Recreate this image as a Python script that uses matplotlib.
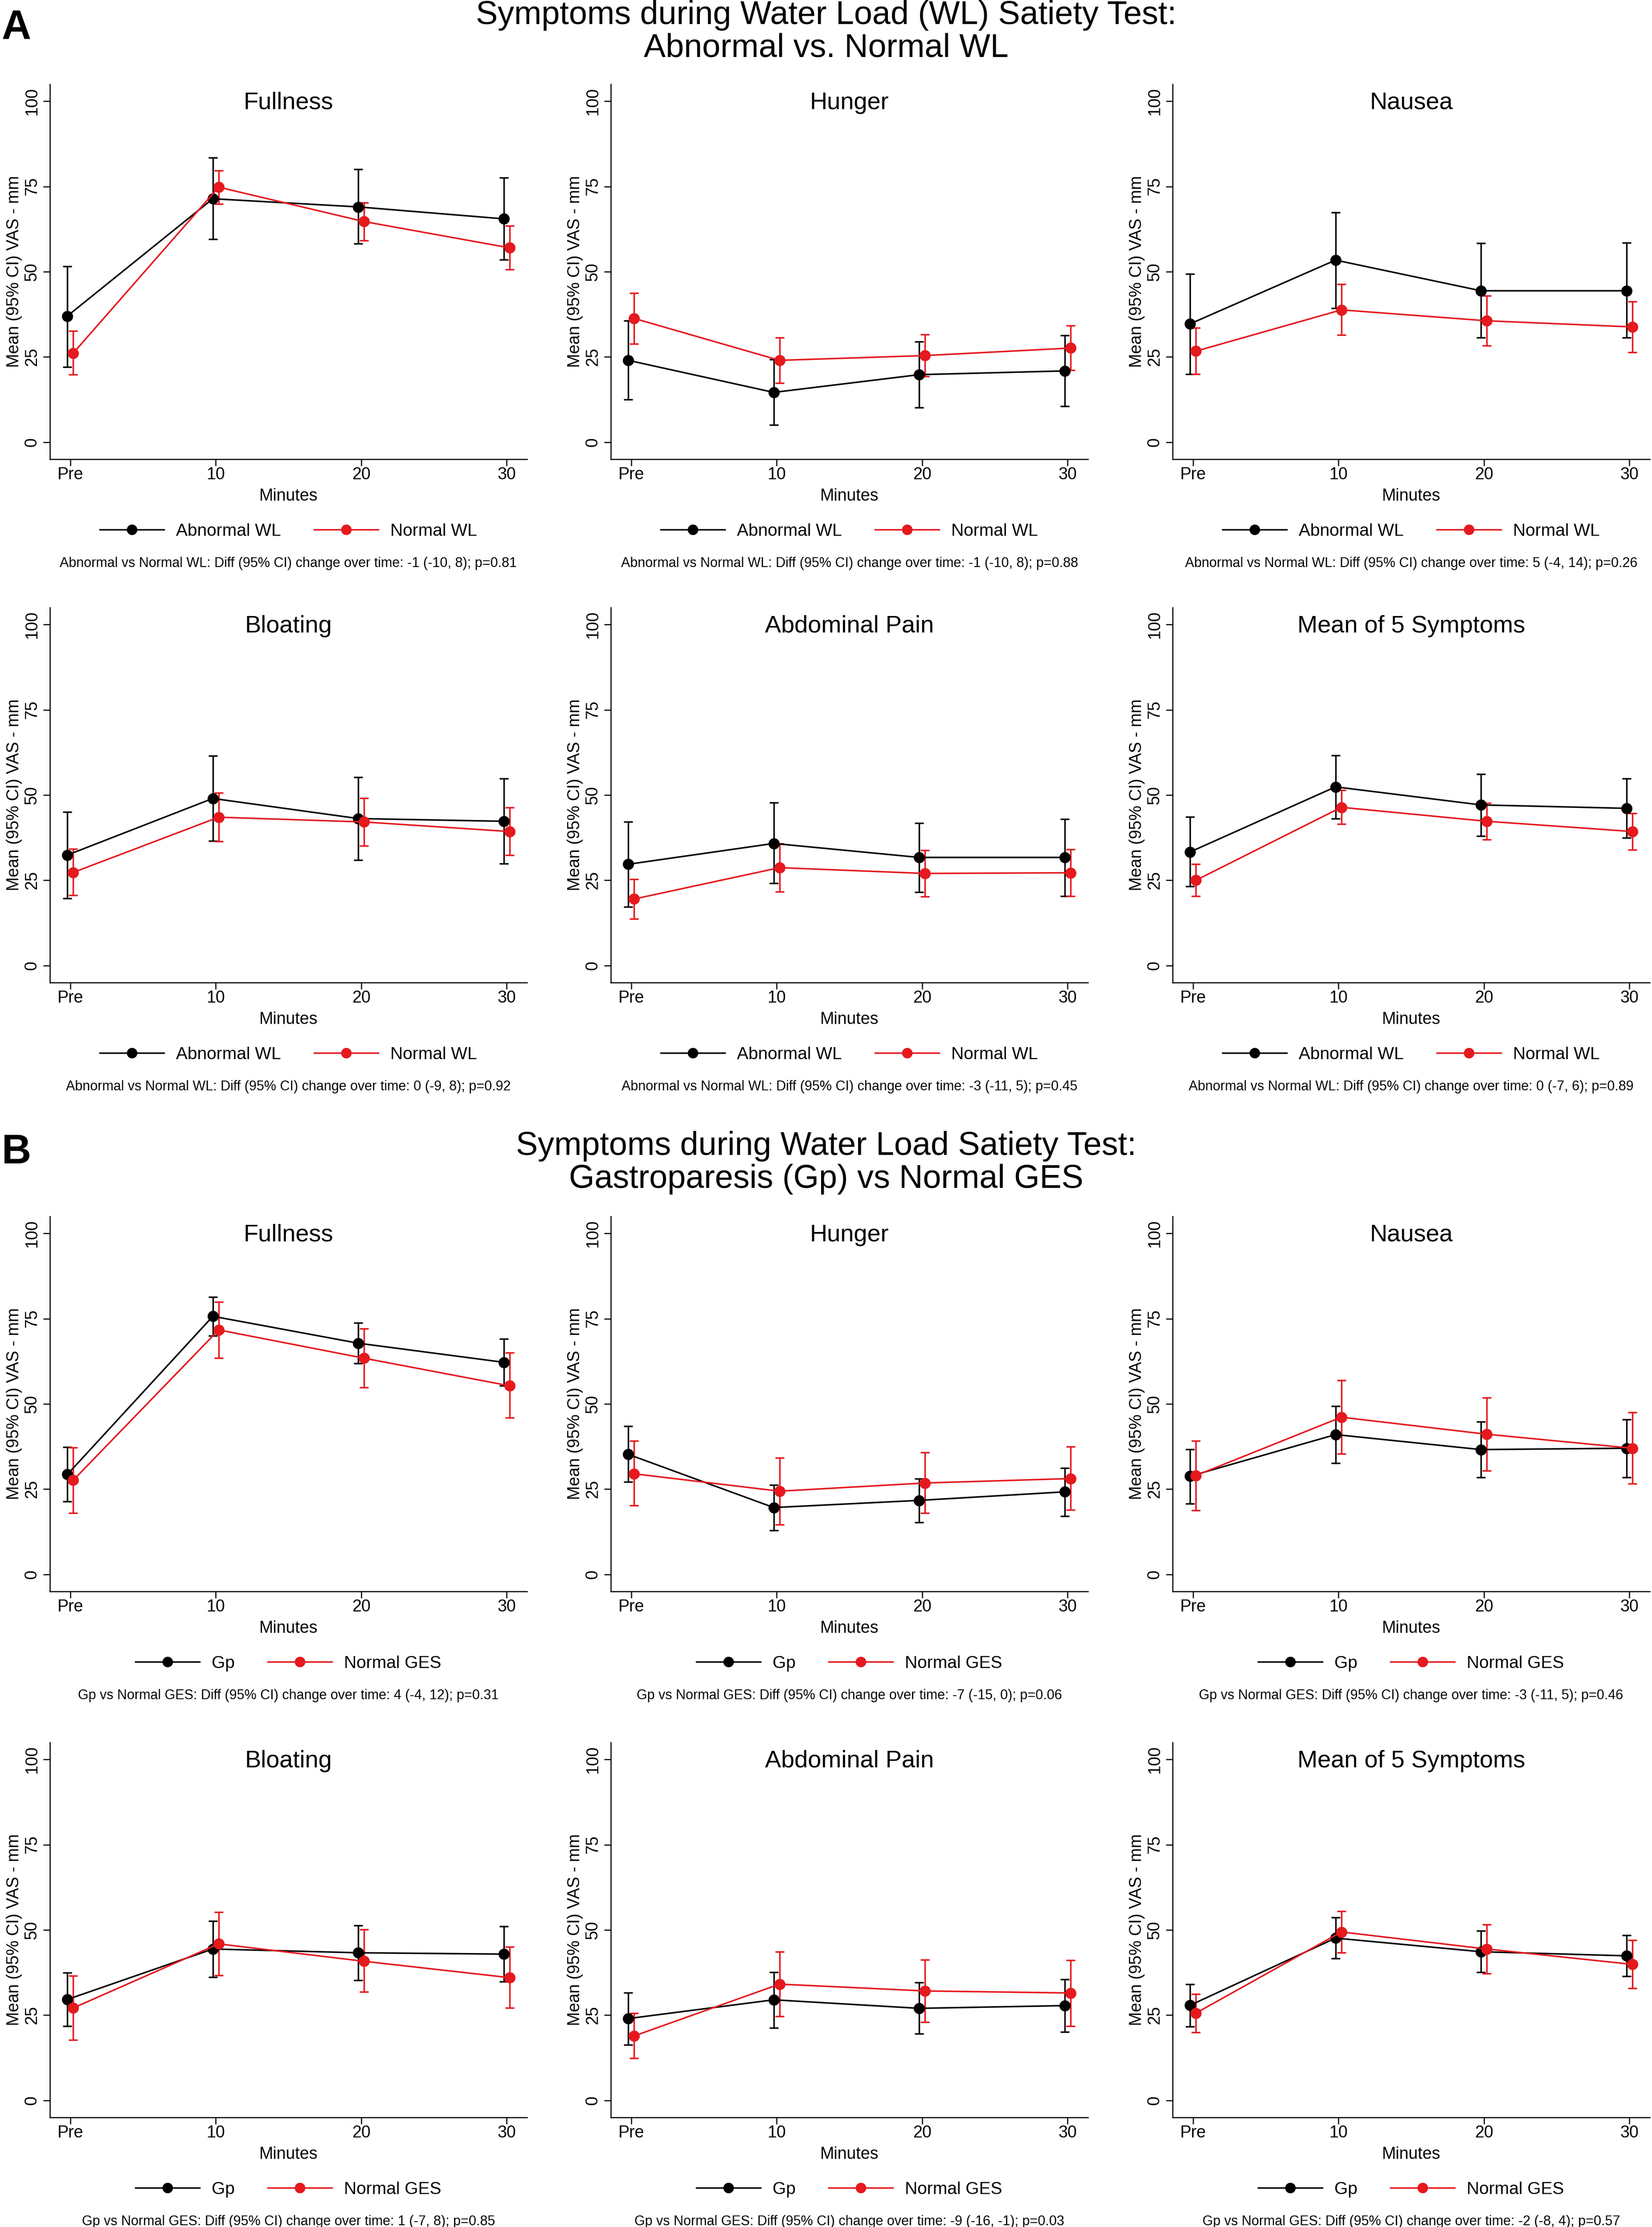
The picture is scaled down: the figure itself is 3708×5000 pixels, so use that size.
import matplotlib
matplotlib.use("Agg")
import matplotlib.pyplot as plt
from matplotlib.lines import Line2D

plt.rcParams['font.family'] = ['Liberation Sans', 'DejaVu Sans']

# ---------------- data ----------------
time_positions = [0, 10, 20, 30]
time_labels = ["Pre", "10", "20", "30"]
symptoms = ["Fullness", "Hunger", "Nausea", "Bloating", "Abdominal Pain", "Mean of 5 Symptoms"]

# Panel A: Abnormal WL (black) vs Normal WL (red)
A_abn_mean = [
    [37.0, 71.4, 69.0, 65.5],
    [24.0, 14.6, 19.8, 20.9],
    [34.7, 53.4, 44.4, 44.4],
    [32.4, 49.0, 43.1, 42.3],
    [29.7, 35.8, 31.7, 31.7],
    [33.3, 52.4, 47.1, 46.1],
]
A_abn_lo = [
    [22.1, 59.6, 58.2, 53.5],
    [12.5, 5.0, 10.2, 10.6],
    [20.0, 39.3, 30.7, 30.7],
    [19.7, 36.6, 30.9, 29.9],
    [17.2, 24.1, 21.5, 20.4],
    [23.2, 43.1, 38.0, 37.4],
]
A_abn_hi = [
    [51.6, 83.4, 80.1, 77.5],
    [35.6, 24.2, 29.5, 31.3],
    [49.4, 67.4, 58.4, 58.5],
    [45.1, 61.5, 55.2, 54.8],
    [42.1, 47.8, 41.8, 43.0],
    [43.6, 61.6, 56.1, 54.8],
]
A_nor_mean = [
    [26.1, 74.8, 64.7, 57.0],
    [36.3, 24.0, 25.4, 27.6],
    [26.7, 38.8, 35.6, 33.8],
    [27.3, 43.5, 42.1, 39.3],
    [19.5, 28.7, 27.0, 27.2],
    [25.0, 46.4, 42.3, 39.3],
]
A_nor_lo = [
    [19.8, 69.9, 59.1, 50.7],
    [28.9, 17.4, 19.3, 21.1],
    [20.0, 31.4, 28.3, 26.3],
    [20.6, 36.4, 35.1, 32.3],
    [13.7, 21.6, 20.2, 20.4],
    [20.3, 41.5, 37.0, 33.9],
]
A_nor_hi = [
    [32.6, 79.7, 70.2, 63.4],
    [43.7, 30.7, 31.6, 34.2],
    [33.6, 46.4, 43.0, 41.3],
    [34.2, 50.6, 49.1, 46.3],
    [25.3, 35.8, 33.8, 34.1],
    [29.7, 51.4, 47.6, 44.7],
]
A_notes = [
    "Abnormal vs Normal WL: Diff (95% CI) change over time: -1 (-10, 8); p=0.81",
    "Abnormal vs Normal WL: Diff (95% CI) change over time: -1 (-10, 8); p=0.88",
    "Abnormal vs Normal WL: Diff (95% CI) change over time: 5 (-4, 14); p=0.26",
    "Abnormal vs Normal WL: Diff (95% CI) change over time: 0 (-9, 8); p=0.92",
    "Abnormal vs Normal WL: Diff (95% CI) change over time: -3 (-11, 5); p=0.45",
    "Abnormal vs Normal WL: Diff (95% CI) change over time: 0 (-7, 6); p=0.89",
]
A_groups = ["Abnormal WL", "Normal WL"]
A_title = ["Symptoms during Water Load (WL) Satiety Test:", "Abnormal vs. Normal WL"]

# Panel B: Gp (black) vs Normal GES (red)
B_gp_mean = [
    [29.3, 75.7, 67.8, 62.2],
    [35.2, 19.6, 21.7, 24.2],
    [28.8, 41.0, 36.6, 37.0],
    [29.6, 44.4, 43.3, 42.9],
    [24.0, 29.5, 27.0, 27.8],
    [27.9, 47.6, 43.6, 42.4],
]
B_gp_lo = [
    [21.4, 70.0, 61.9, 55.3],
    [27.2, 12.9, 15.3, 17.1],
    [20.8, 32.6, 28.5, 28.5],
    [21.8, 36.1, 35.2, 34.8],
    [16.3, 21.3, 19.6, 20.1],
    [21.6, 41.7, 37.6, 36.4],
]
B_gp_hi = [
    [37.3, 81.4, 73.8, 69.1],
    [43.5, 26.2, 28.1, 31.2],
    [36.7, 49.4, 44.8, 45.4],
    [37.5, 52.6, 51.3, 51.1],
    [31.6, 37.6, 34.6, 35.5],
    [34.1, 53.7, 49.7, 48.4],
]
B_nor_mean = [
    [27.6, 71.7, 63.4, 55.3],
    [29.5, 24.4, 26.8, 28.1],
    [29.0, 46.1, 41.1, 37.0],
    [27.1, 45.9, 40.8, 36.0],
    [18.9, 34.1, 32.1, 31.5],
    [25.6, 49.4, 44.4, 39.9],
]
B_nor_lo = [
    [18.0, 63.4, 54.8, 45.9],
    [20.2, 14.6, 18.0, 18.9],
    [18.8, 35.4, 30.4, 26.6],
    [17.7, 36.7, 31.8, 27.2],
    [12.4, 24.6, 23.0, 21.8],
    [20.0, 43.3, 37.2, 32.9],
]
B_nor_hi = [
    [37.2, 79.9, 72.1, 65.0],
    [39.1, 34.2, 35.8, 37.4],
    [39.1, 56.9, 51.8, 47.5],
    [36.6, 55.2, 50.1, 45.0],
    [25.6, 43.6, 41.2, 41.1],
    [31.2, 55.5, 51.6, 47.0],
]
B_notes = [
    "Gp vs Normal GES: Diff (95% CI) change over time: 4 (-4, 12); p=0.31",
    "Gp vs Normal GES: Diff (95% CI) change over time: -7 (-15, 0); p=0.06",
    "Gp vs Normal GES: Diff (95% CI) change over time: -3 (-11, 5); p=0.46",
    "Gp vs Normal GES: Diff (95% CI) change over time: 1 (-7, 8); p=0.85",
    "Gp vs Normal GES: Diff (95% CI) change over time: -9 (-16, -1); p=0.03",
    "Gp vs Normal GES: Diff (95% CI) change over time: -2 (-8, 4); p=0.57",
]
B_groups = ["Gp", "Normal GES"]
B_title = ["Symptoms during Water Load Satiety Test:", "Gastroparesis (Gp) vs Normal GES"]

# ---------------- layout / style ----------------
W, H = 3708, 5000
DPI = 100
fig = plt.figure(figsize=(W / DPI, H / DPI), dpi=DPI)
fig.patch.set_facecolor("white")

RED = "#E5191E"
BLACK = "black"
col_left = [112, 1371, 2632]
ax_w = 1071
ax_h = 842
row_top = [189, 1364, 2731, 3912]
dodge = 0.2

LW = 2.5
MS = 17
FS_TICK = 27
FS_TITLE = 39
FS_LEG = 28
FS_NOTE = 22


def add_axes_px(left, top, w, h):
    return fig.add_axes([left / W, 1 - (top + h) / H, w / W, h / H])


def draw_panel(ax, title, m1, lo1, hi1, m2, lo2, hi2, groups, note):
    x1 = [t - dodge for t in time_positions]
    x2 = [t + dodge for t in time_positions]
    for xs, m, lo, hi, c in ((x1, m1, lo1, hi1, BLACK), (x2, m2, lo2, hi2, RED)):
        yerr = [[mm - ll for mm, ll in zip(m, lo)], [hh - mm for mm, hh in zip(m, hi)]]
        ax.errorbar(xs, m, yerr=yerr, color=c, lw=LW, marker='o', ms=MS,
                    mfc=c, mec=c, capsize=7, capthick=LW, elinewidth=LW)
    ax.set_xlim(-1.4, 31.4)
    ax.set_ylim(-5, 105)
    ax.set_xticks(time_positions)
    ax.set_xticklabels(time_labels)
    ax.set_yticks([0, 25, 50, 75, 100])
    ax.set_yticklabels(["0", "25", "50", "75", "100"], rotation=90, va='center')
    for s in ("top", "right"):
        ax.spines[s].set_visible(False)
    for s in ("left", "bottom"):
        ax.spines[s].set_linewidth(1.8)
    ax.tick_params(axis='both', direction='out', length=11, width=1.8,
                   labelsize=FS_TICK)
    ax.tick_params(axis='x', pad=1)
    ax.tick_params(axis='y', pad=5)
    ax.set_ylabel("Mean (95% CI) VAS - mm", fontsize=FS_TICK)
    ax.yaxis.set_label_coords(-0.058, 0.5)
    ax.text(0.5, 0.9335, title, transform=ax.transAxes, ha='center',
            va='baseline', fontsize=FS_TITLE)
    ax.text(0.5, -0.1105, "Minutes", transform=ax.transAxes, ha='center',
            va='baseline', fontsize=FS_TICK)
    handles = [Line2D([0], [0], color=BLACK, lw=LW, marker='o', ms=MS - 1),
               Line2D([0], [0], color=RED, lw=LW, marker='o', ms=MS - 1)]
    ax.legend(handles, groups, loc='center', bbox_to_anchor=(0.5, -0.192),
              ncol=2, frameon=False, fontsize=FS_LEG, handlelength=3.7,
              handletextpad=0.7, columnspacing=1.9, numpoints=1)
    ax.text(0.5, -0.287, note, transform=ax.transAxes, ha='center',
            va='baseline', fontsize=FS_NOTE)


panels = [
    (0, A_abn_mean, A_abn_lo, A_abn_hi, A_nor_mean, A_nor_lo, A_nor_hi, A_groups, A_notes),
    (2, B_gp_mean, B_gp_lo, B_gp_hi, B_nor_mean, B_nor_lo, B_nor_hi, B_groups, B_notes),
]
for row0, m1, lo1, hi1, m2, lo2, hi2, groups, notes in panels:
    for i, name in enumerate(symptoms):
        r = row0 + i // 3
        c = i % 3
        ax = add_axes_px(col_left[c], row_top[r], ax_w, ax_h)
        draw_panel(ax, name, m1[i], lo1[i], hi1[i], m2[i], lo2[i], hi2[i], groups, notes[i])

# Section titles and letters
FS_SUP = 53
for lines, base_y, letter, letter_y in ((A_title, 54, "A", 87), (B_title, 2593, "B", 2612)):
    fig.text(0.5, 1 - base_y / H, lines[0], ha='center', va='baseline', fontsize=FS_SUP)
    fig.text(0.5, 1 - (base_y + 74) / H, lines[1], ha='center', va='baseline', fontsize=FS_SUP)
    fig.text(4 / W, 1 - letter_y / H, letter, ha='left', va='baseline',
             fontsize=66, fontweight='bold')

fig.savefig("out.png", dpi=DPI, facecolor="white")
